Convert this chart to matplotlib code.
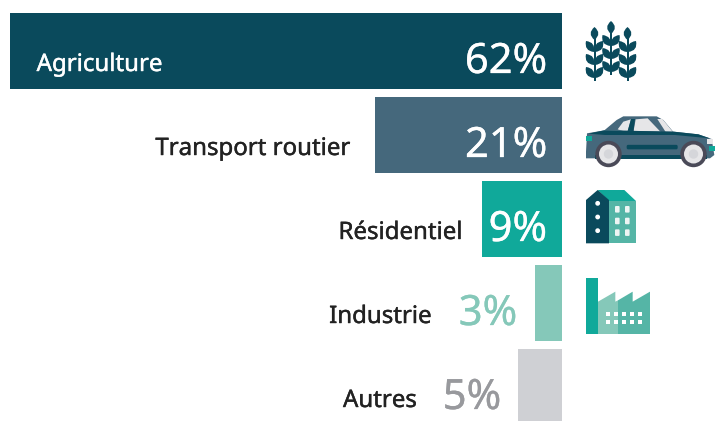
import matplotlib
matplotlib.use("Agg")
import matplotlib.pyplot as plt
import matplotlib.patheffects as pe
from matplotlib.patches import Circle, FancyBboxPatch, PathPatch, Polygon, Rectangle
from matplotlib.path import Path

# Data
categories = ["Agriculture", "Transport routier", "Résidentiel", "Industrie", "Autres"]
values = [62, 21, 9, 3, 5]
value_labels = ["62%", "21%", "9%", "3%", "5%"]

bar_colors = ["#0a4a5c", "#45687c", "#10a99a", "#85c8b9", "#cfd0d4"]
value_colors = ["white", "white", "white", "#85c8b9", "#98999d"]
label_colors = ["white", "#222222", "#222222", "#222222", "#222222"]

# Layout, in pixels
W, H = 715, 421
PX_PER_PCT = 8.9
BAR_RIGHT = 562
ROW_STEP = 84
ROW0 = 51
value_right = [547, 547, 547, 517, 501]
label_right = [163, 351, 463, 432, 417]

DARK = "#0a4a5c"
TEAL = "#10a99a"
MID = "#55b5a6"
LIGHT = "#85c8b9"

fig = plt.figure(figsize=(W / 100, H / 100), dpi=100)
plt.rcParams["font.family"] = ["Noto Sans", "DejaVu Sans"]

# Bars: axis runs right to left, zero at the shared right edge
ax = fig.add_axes([0, 0, 1, 1])
ax.barh(range(len(values)), values, height=76 / ROW_STEP, color=bar_colors)
ax.set_xlim(BAR_RIGHT / PX_PER_PCT, -(W - BAR_RIGHT) / PX_PER_PCT)
ax.set_ylim((H - ROW0) / ROW_STEP, -ROW0 / ROW_STEP)
ax.axis("off")

# Text overlay and icons share a pixel axes (y down)
px = fig.add_axes([0, 0, 1, 1])
px.set_xlim(0, W)
px.set_ylim(H, 0)
px.axis("off")
px.patch.set_alpha(0)

for i in range(len(categories)):
    yc = ROW0 + i * ROW_STEP
    t = px.text(value_right[i], yc + 22, value_labels[i], color=value_colors[i],
                fontsize=30, ha="right", va="baseline")
    t.set_path_effects([pe.withStroke(linewidth=0.2, foreground=value_colors[i])])
    t = px.text(label_right[i], yc + 20, categories[i], color=label_colors[i],
                fontsize=17.3, ha="right", va="baseline")
    t.set_path_effects([pe.withStroke(linewidth=0.3, foreground=label_colors[i])])


def zoomed(pts, ox, oy):
    return [(x / 3 + ox, y / 3 + oy) for x, y in pts]


def leaf(x0, y0, x1, y1, bulge, color=DARK):
    mx, my = (x0 + x1) / 2, (y0 + y1) / 2
    dx, dy = x1 - x0, y1 - y0
    verts = [(x0, y0), (mx - dy * bulge, my + dx * bulge), (x1, y1),
             (mx + dy * bulge, my - dx * bulge), (x0, y0)]
    codes = [Path.MOVETO, Path.CURVE3, Path.CURVE3, Path.CURVE3, Path.CURVE3]
    px.add_patch(PathPatch(Path(verts, codes), fc=color, ec="none"))


# Wheat
for sx, top, bottom in [(594.5, 27, 81), (611, 21, 75), (627.5, 27, 81)]:
    px.add_patch(Rectangle((sx - 1, top + 10), 2, bottom - top - 10, fc=DARK, ec="none"))
    leaf(sx, top + 13, sx, top, 0.6)
    for lvl in [top + 25, top + 38, top + 51]:
        leaf(sx - 0.6, lvl, sx - 8.5, lvl - 11, 0.55)
        leaf(sx + 0.6, lvl, sx + 8.5, lvl - 11, 0.55)

# Car
o = (575, 5)
px.add_patch(Polygon(zoomed([(88, 376), (125, 345), (145, 334), (245, 334), (265, 345), (296, 382)], *o),
                     fc="#45687c", ec="none"))
px.add_patch(Polygon(zoomed([(128, 373), (145, 350), (168, 343), (157, 382)], *o), fc="#e6e6e8", ec="none"))
px.add_patch(Polygon(zoomed([(175, 382), (182, 343), (218, 340), (258, 382)], *o), fc="#e6e6e8", ec="none"))
px.add_patch(Polygon(zoomed([(247, 342), (262, 342), (294, 381), (272, 381)], *o), fc="#e6e6e8", ec="none"))
px.add_patch(Polygon(zoomed([(157, 382), (168, 342), (180, 342), (175, 382)], *o), fc=DARK, ec="none"))
px.add_patch(Polygon(zoomed([(33, 440), (36, 385), (88, 376), (296, 380), (370, 388), (410, 402),
                             (418, 450), (405, 460), (33, 460)], *o), fc="#45687c", ec="none"))
px.add_patch(Polygon(zoomed([(40, 386), (88, 376), (296, 380), (370, 388), (405, 400), (300, 390),
                             (90, 390)], *o), fc=DARK, ec="none"))
px.add_patch(Polygon(zoomed([(60, 449), (395, 449), (395, 461), (60, 461)], *o), fc=DARK, ec="none"))
bx, by = zoomed([(155, 424)], *o)[0]
px.add_patch(FancyBboxPatch((bx + 1.5, by), 48, 1.5, boxstyle="round,pad=1.5", fc=DARK, ec="none"))
px.add_patch(Rectangle((586, 136), 6, 4.5, fc=TEAL, ec="none"))
px.add_patch(Rectangle((708.5, 146), 6, 4.5, fc=TEAL, ec="none"))
px.add_patch(Rectangle((707, 139), 6, 5, fc="#e6e6e8", ec="none"))
for wx in [608.5, 693.5]:
    px.add_patch(Circle((wx, 154), 13.2, fc="#4a4a58", ec="none"))
    px.add_patch(Circle((wx, 154), 9.5, fc="#e6e6e8", ec="none"))
    px.add_patch(Circle((wx, 154), 4.7, fc="#d5d6da", ec="none"))

# Building
o = (575, 180)
px.add_patch(Polygon(zoomed([(68, 30), (148, 30), (183, 63), (102, 63)], *o), fc=TEAL, ec="none"))
px.add_patch(Polygon(zoomed([(102, 63), (183, 63), (183, 190), (102, 190)], *o), fc=MID, ec="none"))
px.add_patch(Polygon(zoomed([(33, 60), (68, 30), (102, 60), (102, 190), (33, 190)], *o), fc=DARK, ec="none"))
for dy in [70, 111, 152]:
    px.add_patch(Circle(zoomed([(68, dy)], *o)[0], 2.4, fc="white", ec="none"))
for wx in [127, 157]:
    for wy in [88, 123, 158]:
        x0, y0 = zoomed([(wx - 7, wy - 10)], *o)[0]
        px.add_patch(FancyBboxPatch((x0 + 1, y0 + 1), 2.6, 4.6, boxstyle="round,pad=1", fc="#eef5f4", ec="none"))

# Factory
o = (575, 180)
px.add_patch(Polygon(zoomed([(33, 294), (69, 294), (69, 462), (33, 462)], *o), fc=TEAL, ec="none"))
px.add_patch(Polygon(zoomed([(69, 365), (121, 335), (121, 365), (129, 361), (129, 462), (69, 462)], *o),
                     fc=LIGHT, ec="none"))
px.add_patch(Polygon(zoomed([(129, 361), (173, 335), (173, 365), (225, 335), (225, 462), (129, 462)], *o),
                     fc=MID, ec="none"))
for wx in [93, 117, 141, 165, 189]:
    for wy in [396, 419]:
        x0, y0 = zoomed([(wx, wy)], *o)[0]
        px.add_patch(Rectangle((x0, y0), 4, 4, fc="white", ec="none"))

fig.savefig("out.png", dpi=100)
